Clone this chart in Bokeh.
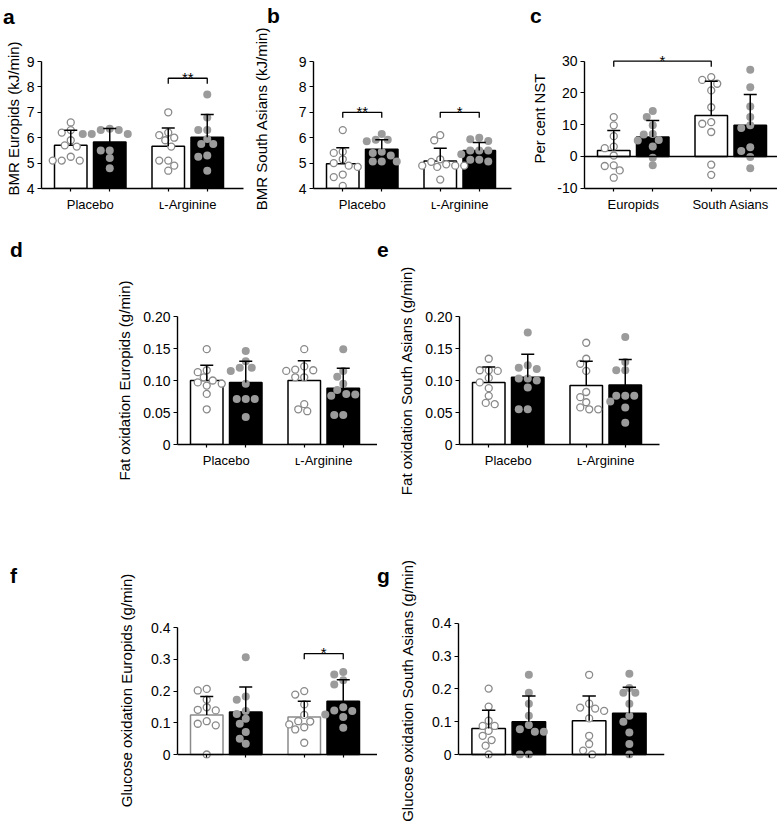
from bokeh.plotting import figure
from bokeh.models import FixedTicker, Span, Range1d, Div
from bokeh.layouts import column, row
from bokeh.core.properties import value
from bokeh.embed import file_html
from bokeh.resources import INLINE

FONT = "Liberation Sans"

# ---------------- data ----------------
groups = ["Placebo", "\u029f-Arginine"]
groups_c = ["Europids", "South Asians"]

# bar order: [white group1, black group1, white group2, black group2]
a_mean = [5.70, 5.83, 5.66, 6.02]
a_sd = [0.59, 0.53, 0.72, 0.89]
a_pts = [[6.6, 6.3, 6.2, 5.9, 5.7, 5.65, 5.25, 5.1, 5.1, 5.1],
         [6.35, 6.3, 6.3, 6.15, 6.15, 6.15, 5.5, 5.5, 5.2, 4.8],
         [7.0, 6.2, 6.1, 6.0, 5.9, 5.65, 5.1, 5.1, 4.9, 4.7],
         [7.7, 6.8, 6.3, 6.3, 5.95, 5.75, 5.75, 5.3, 5.25, 4.7]]
a_sig = [(2, 3, 8.34, "**")]

b_mean = [4.97, 5.55, 5.08, 5.50]
b_sd = [0.63, 0.37, 0.50, 0.31]
b_pts = [[6.3, 5.45, 5.4, 5.15, 5.0, 4.9, 4.85, 4.55, 4.45, 4.1],
         [6.15, 5.92, 5.92, 5.86, 5.45, 5.4, 5.3, 5.06, 5.06, 5.06],
         [6.1, 5.9, 5.15, 5.05, 4.95, 4.9, 4.9, 4.9, 4.85, 4.35],
         [6.0, 5.94, 5.87, 5.5, 5.5, 5.5, 5.35, 5.13, 5.06, 5.13]]
b_sig = [(0, 1, 7.0, "**"), (2, 3, 7.0, "*")]

c_mean = [1.9, 6.1, 12.9, 9.8]
c_sd = [6.3, 5.2, 10.8, 9.7]
c_pts = [[12.4, 9.8, 6.4, 3.1, 2.6, 0.3, -2.8, -3.0, -4.4, -6.7],
         [14.3, 12.4, 9.8, 6.9, 7.1, 5.0, 5.2, 3.1, -0.4, -2.8],
         [24.1, 25.0, 22.9, 20.8, 15.5, 10.8, 10.3, 7.7, -2.6, -5.8],
         [27.3, 21.8, 15.7, 12.4, 9.8, 9.0, 2.9, 1.7, -0.2, -3.7]]
c_sig = [(0, 2, 30.0, "*")]

d_mean = [0.100, 0.097, 0.100, 0.088]
d_sd = [0.024, 0.033, 0.031, 0.031]
d_pts = [[0.149, 0.116, 0.113, 0.105, 0.1, 0.097, 0.095, 0.092, 0.079, 0.055],
         [0.146, 0.13, 0.12, 0.12, 0.115, 0.095, 0.071, 0.071, 0.071, 0.043],
         [0.149, 0.122, 0.117, 0.116, 0.115, 0.105, 0.105, 0.063, 0.055, 0.052],
         [0.149, 0.115, 0.106, 0.095, 0.085, 0.079, 0.078, 0.076, 0.046, 0.046]]

e_mean = [0.097, 0.105, 0.092, 0.093]
e_sd = [0.024, 0.036, 0.038, 0.040]
e_pts = [[0.134, 0.116, 0.116, 0.115, 0.104, 0.097, 0.088, 0.076, 0.065, 0.063],
         [0.175, 0.124, 0.12, 0.118, 0.103, 0.103, 0.1, 0.089, 0.055, 0.055],
         [0.159, 0.134, 0.126, 0.115, 0.082, 0.074, 0.066, 0.058, 0.055, 0.055],
         [0.168, 0.129, 0.116, 0.116, 0.076, 0.076, 0.076, 0.067, 0.058, 0.034]]

f_mean = [0.125, 0.134, 0.118, 0.168]
f_sd = [0.058, 0.079, 0.050, 0.068]
f_pts = [[0.207, 0.202, 0.173, 0.149, 0.141, 0.139, 0.105, 0.097, 0.092, 0.0],
         [0.307, 0.183, 0.173, 0.137, 0.128, 0.113, 0.097, 0.071, 0.05, 0.034],
         [0.2, 0.189, 0.158, 0.125, 0.105, 0.104, 0.095, 0.086, 0.079, 0.037],
         [0.26, 0.252, 0.234, 0.221, 0.149, 0.139, 0.137, 0.126, 0.118, 0.084]]
f_sig = [(2, 3, 0.318, "*")]

g_mean = [0.079, 0.100, 0.103, 0.126]
g_sd = [0.056, 0.078, 0.075, 0.079]
g_pts = [[0.201, 0.146, 0.103, 0.087, 0.087, 0.072, 0.057, 0.044, 0.027, 0.0],
         [0.243, 0.188, 0.155, 0.118, 0.09, 0.077, 0.069, 0.069, 0.0, 0.0],
         [0.243, 0.155, 0.143, 0.14, 0.133, 0.11, 0.057, 0.032, 0.012, 0.0],
         [0.246, 0.203, 0.188, 0.188, 0.155, 0.118, 0.1, 0.067, 0.032, 0.0]]

ticks_bmr = [4, 5, 6, 7, 8, 9]
ticks_nst = [-10, 0, 10, 20, 30]
ticks_fat = [0, 0.05, 0.10, 0.15, 0.20]
ticks_fat_lab = ["0", "0.05", "0.10", "0.15", "0.20"]
ticks_glu = [0, 0.1, 0.2, 0.3, 0.4]
ticks_glu_lab = ["0", "0.1", "0.2", "0.3", "0.4"]

# ---------------- layout helpers ----------------
BAR_POS = [0.9 + 3.0 * g + 1.2 * t for g in range(2) for t in range(2)]
GROUP_POS = [1.5, 4.5]


def swarm(vals, cx, ppx, ppy, dia=7.6):
    placed = []
    out = [0.0] * len(vals)
    order = sorted(range(len(vals)), key=lambda i: -vals[i])
    cands = [0.0]
    for k in range(1, 15):
        cands += [-3.0 * k, 3.0 * k]
    for i in order:
        yp = vals[i] * ppy
        chosen = cands[-1]
        for c in cands:
            if all((c - px) ** 2 + (yp - py) ** 2 >= dia ** 2 for px, py in placed):
                chosen = c
                break
        placed.append((chosen, yp))
        out[i] = cx + chosen / ppx
    return out


def letter(txt, w, h, pad_left, pad_top):
    html = ('<div style="padding-left:%dpx;padding-top:%dpx;font-family:\'%s\';'
            'font-size:21px;font-weight:bold;line-height:1;color:black;">%s</div>'
            % (pad_left, pad_top, FONT, txt))
    return Div(text=html, width=w, height=h, margin=0)


def panel(canvas, fx, fy, yref, ppx, ppy, ybounds, ticks, tick_labels, ylabel,
          label_standoff, cats, means, sds, pts, base, sig=None,
          zero_line=False, fixed0=False, white_line="black"):
    cl, ct, cr, cb = canvas
    fl, fr = fx
    ft, fb = fy
    yv, yp = yref
    ys = yv - (fb - yp) / ppy
    ye = yv + (yp - ft) / ppy
    xend = (fr - fl) / ppx
    fw = int(round(fr - fl))
    fh = int(round(fb - ft))
    mbl = int(round(fl - cl))
    mbr = int(round(cr - cl)) - mbl - fw
    mbt = int(round(ft - ct))
    mbb = int(round(cb - ct)) - mbt - fh
    p = figure(frame_width=fw, frame_height=fh,
               x_range=Range1d(0, xend), y_range=Range1d(ys, ye),
               min_border_left=mbl, min_border_right=mbr,
               min_border_top=mbt, min_border_bottom=mbb,
               toolbar_location=None, output_backend="svg")
    p.outline_line_color = None
    p.xgrid.visible = False
    p.ygrid.visible = False
    p.background_fill_color = "white"
    p.border_fill_color = "white"

    p.yaxis.ticker = FixedTicker(ticks=ticks)
    p.yaxis.major_label_overrides = {t: l for t, l in zip(ticks, tick_labels)}
    p.yaxis.bounds = ybounds
    p.yaxis.axis_label = ylabel
    p.yaxis.axis_label_standoff = label_standoff
    p.yaxis.axis_label_text_font = FONT
    p.yaxis.axis_label_text_font_size = "15px"
    p.yaxis.axis_label_text_font_style = "normal"
    p.yaxis.axis_label_text_color = "black"
    p.yaxis.major_label_text_font = FONT
    p.yaxis.major_label_text_font_size = "14px"
    p.yaxis.major_label_standoff = 3
    p.yaxis.major_tick_out = 4
    p.yaxis.major_tick_in = 0
    p.yaxis.minor_tick_out = 0
    p.yaxis.minor_tick_in = 0

    p.xaxis.ticker = FixedTicker(ticks=GROUP_POS, minor_ticks=BAR_POS)
    p.xaxis.major_label_overrides = {t: l for t, l in zip(GROUP_POS, cats)}
    p.xaxis.major_label_text_font = FONT
    p.xaxis.major_label_text_font_size = "13px"
    p.xaxis.major_label_standoff = 5
    p.xaxis.major_tick_out = 0
    p.xaxis.major_tick_in = 0
    p.xaxis.minor_tick_out = 3
    p.xaxis.minor_tick_in = 0
    if fixed0:
        p.xaxis.fixed_location = 0
    for ax in (p.xaxis, p.yaxis):
        ax.axis_line_width = 1.4
        ax.axis_line_color = "black"
        ax.major_tick_line_width = 1.2
        ax.minor_tick_line_width = 1.2
        ax.major_label_text_color = "black"

    if zero_line:
        p.add_layout(Span(location=0, dimension="width", line_color="black",
                          line_width=1.4))

    fills = ["white", "black", "white", "black"]
    lines = [white_line, "black", white_line, "black"]
    p.vbar(x=BAR_POS, top=means, bottom=base, width=1.0, fill_color=fills,
           line_color=lines, line_width=1.5)

    for k in range(4):
        xs = swarm(pts[k], BAR_POS[k], ppx, ppy)
        if k % 2 == 0:
            p.scatter(xs, pts[k], size=7, marker="circle", fill_color="white",
                      line_color="#8a8a8a", line_width=1.3)
        else:
            p.scatter(xs, pts[k], size=8, marker="circle", fill_color="#9b9b9b",
                      line_color=None)

    tops = [m + s for m, s in zip(means, sds)]
    capw = 0.2
    p.segment(x0=BAR_POS, y0=means, x1=BAR_POS, y1=tops, line_color="black",
              line_width=1.5)
    p.segment(x0=[x - capw for x in BAR_POS], y0=tops,
              x1=[x + capw for x in BAR_POS], y1=tops, line_color="black",
              line_width=1.5)

    if sig:
        for i0, i1, lev, star in sig:
            x0, x1 = BAR_POS[i0], BAR_POS[i1]
            drop = 5.5 / ppy
            p.line([x0, x0, x1, x1], [lev - drop, lev, lev, lev - drop],
                   line_color="black", line_width=1.3)
            p.text([(x0 + x1) / 2], [lev], text=[star], text_align="center",
                   text_baseline="alphabetic", y_offset=-1,
                   text_font=value(FONT), text_font_size="15px",
                   text_color="black")
    return p


PPX = 32.5
bmr_lab = [str(t) for t in ticks_bmr]
nst_lab = [str(t) for t in ticks_nst]

fa = panel((0, 26, 249, 222), (41, 243), (48, 188), (4, 188), PPX, 25.4, (4, 9),
           ticks_bmr, bmr_lab, "BMR Europids (kJ/min)", 2,
           groups, a_mean, a_sd, a_pts, 4, sig=a_sig)
fb = panel((249, 26, 517, 222), (307, 505), (48, 188), (4, 188), PPX, 25.4, (4, 9),
           ticks_bmr, bmr_lab, "BMR South Asians (kJ/min)", 26,
           groups, b_mean, b_sd, b_pts, 4, sig=b_sig)
fc = panel((517, 26, 776, 222), (578, 776), (48, 188), (-10, 187.7), PPX, 3.175,
           (-10, 30), ticks_nst, nst_lab, "Per cent NST", 6,
           groups_c, c_mean, c_sd, c_pts, 0, sig=c_sig, zero_line=True)

fd = panel((30, 222, 377, 560), (177, 377), (316, 444), (0, 444), PPX, 640,
           (0, 0.2), ticks_fat, ticks_fat_lab, "Fat oxidation Europids (g/min)", 7,
           groups, d_mean, d_sd, d_pts, 0)
fe = panel((395, 222, 776, 560), (458, 658), (316, 444), (0, 444), PPX, 640,
           (0, 0.2), ticks_fat, ticks_fat_lab,
           "Fat oxidation South Asians (g/min)", 7,
           groups, e_mean, e_sd, e_pts, 0)

ff = panel((30, 560, 377, 821), (177, 377), (622, 758), (0, 754), PPX, 317,
           (0, 0.4), ticks_glu, ticks_glu_lab,
           "Glucose oxidation Europids (g/min)", 13, groups, f_mean, f_sd, f_pts,
           0, sig=f_sig, fixed0=True, white_line="#8a8a8a")
fg = panel((395, 560, 776, 821), (458, 664), (622, 758), (0, 754), 33.5, 328,
           (0, 0.4), ticks_glu, ticks_glu_lab,
           "Glucose oxidation South Asians (g/min)", 13, groups, g_mean, g_sd,
           g_pts, 0, fixed0=True)

top_letters = row(letter("a", 267, 26, 3, 6), letter("b", 263, 26, 0, 5),
                  letter("c", 246, 26, 0, 5))
row1 = row(fa, fb, fc)
row2 = row(letter("d", 30, 338, 10, 17), fd, letter("e", 18, 338, 0, 17), fe)
row3 = row(letter("f", 30, 261, 10, 5), ff, letter("g", 18, 261, 0, 5), fg)

layout = column(top_letters, row1, row2, row3)

with open("out.html", "w") as fh_:
    fh_.write(file_html(layout, INLINE))
